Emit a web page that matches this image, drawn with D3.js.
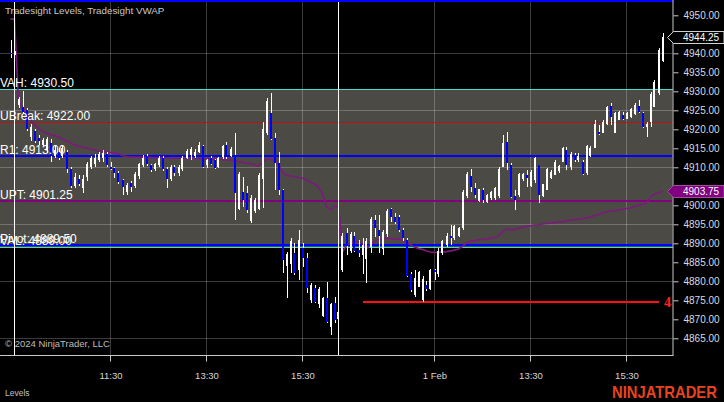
<!DOCTYPE html>
<html><head><meta charset="utf-8">
<script src="https://cdn.jsdelivr.net/npm/d3@7"></script>
<style>html,body{margin:0;padding:0;background:#000;}svg{display:block;font-family:"Liberation Sans",Arial,sans-serif;}</style>
</head><body><svg id="c" width="724" height="402"></svg>
<script>
// ---------- DATA ----------
// bars as [open, high, low, close]; sessions: 30 Jan (last 2 bars), 31 Jan (9:35-16:15), 1 Feb (9:35-16:15)
const day0Bars = [[4940.2,4943.5,4938.8,4939.8],[4939.8,4940.5,4939.5,4940.2]];
const day1Bars = [
[4926.5,4928.5,4925.5,4928],[4926,4930,4924,4924.5],[4925,4925.5,4919.5,4920],[4918,4921.5,4917,4920.5],
[4919.5,4920,4916.5,4917],[4917.8,4918.5,4916,4916.8],[4916,4917.8,4915.5,4917.2],[4914.5,4918,4913.8,4917.5],
[4916.5,4917.5,4911.5,4913],[4913,4915.5,4912.5,4914.5],[4914,4915,4912,4912.5],[4913,4916,4912.5,4915],
[4914,4914.5,4908.5,4909.5],[4909.5,4910,4904.5,4905],[4905,4908.5,4904.5,4907.5],[4907,4908,4905,4905.5],
[4904.5,4908,4903.2,4907],[4907.5,4911.5,4906.5,4911],[4910,4913,4909.5,4912.5],[4911,4913.5,4910,4912.5],
[4912,4914,4911.5,4913.5],[4912.5,4914.5,4911.5,4913.8],[4913.5,4914,4910,4910.5],[4910.2,4911.4,4909.3,4909.6],
[4909.8,4910.2,4907.2,4908.5],[4908.5,4909,4905.5,4906.2],[4906.7,4907,4902.7,4904.7],[4903.5,4906,4902.8,4905.3],
[4906,4906.5,4903.5,4904.8],[4905,4908.8,4904.5,4908.3],[4907.8,4911.2,4907,4910.8],[4910.5,4913.2,4910,4912.5],
[4913,4913.5,4910.3,4910.8],[4910.6,4911,4908.8,4909.4],[4909.5,4911.2,4909,4911],[4910.5,4912.9,4910,4912.5],
[4912.5,4913,4909,4909.5],[4909.6,4910,4904.6,4906.8],[4907,4910.5,4906.5,4910],[4910,4910.6,4907.8,4908.5],
[4908.5,4910.5,4907.8,4910],[4909.5,4912.9,4909,4912.5],[4912.5,4914.7,4912.3,4914.2],[4913.2,4915.3,4912,4914.8],
[4913,4914.8,4912.5,4914],[4914,4916.6,4913.8,4916],[4915.6,4916,4909.8,4910.2],[4910.5,4912.3,4909.8,4911.8],
[4912.5,4913,4910.5,4911],[4911.8,4912.3,4909.5,4909.8],[4910,4912.8,4909.8,4912.4],[4912.6,4916,4912.3,4915.5],
[4915.9,4916.6,4912.3,4912.8],[4913,4915.4,4912.8,4914.8],[4913.2,4919,4896.1,4903.2],[4899,4908.8,4898.8,4908.3],
[4903.5,4907.4,4899.5,4901.5],[4903.2,4905,4898,4898.8],[4896,4902.7,4895.3,4902],[4898.5,4902,4898,4901.5],
[4899,4908.5,4898.8,4908],[4907,4921.9,4899.3,4920],[4919,4928.2,4918.5,4927.5],[4924.3,4929.5,4917.2,4917.5],
[4917.7,4919,4904,4911.1],[4911.1,4914,4902.7,4904],[4904,4904.3,4882.2,4885.6],[4884,4887.7,4875.6,4887.3],
[4884.5,4891.4,4882.2,4890.5],[4887.4,4890,4881.7,4882.2],[4883,4893.5,4880.3,4891],[4888.8,4890,4883.8,4886.1],
[4886.1,4887.4,4877,4878.2],[4875,4879.6,4874.3,4879],[4878.2,4879,4874.3,4874.5],[4874,4878.5,4873,4878],
[4871,4875.9,4870.6,4875.5],[4875.6,4879.8,4869,4869.3],[4868,4874.3,4865.9,4874],[4874.3,4875.9,4869,4869.8],
[4870,4872.5,4869.5,4872]];
const day2Bars = [
[4883,4892.8,4882.4,4892],[4892.7,4894,4887,4889.2],[4888,4893,4887.4,4892.5],[4892,4893,4887.7,4888],
[4888.3,4890.8,4886.4,4887.5],[4887,4891.5,4882,4889.5],[4886,4891.4,4879.6,4890.5],[4889,4897,4887.5,4896.5],
[4896.2,4897.4,4891.7,4894],[4893.5,4897.5,4887.5,4892],[4888.5,4893.5,4887,4893],[4892.5,4899,4891.7,4898.5],
[4899,4899.2,4895.5,4897],[4897,4898,4895,4895.5],[4897,4897.5,4893,4893.5],[4893.5,4894,4890.5,4891.4],
[4891,4891.4,4881.2,4881.5],[4882,4882.5,4877.2,4877.7],[4876.5,4883,4875.9,4881],[4878.5,4882.6,4878.5,4882.5],
[4875,4881.3,4874.5,4880.5],[4879,4880,4877.5,4878],[4878,4883.2,4877.7,4883],[4883,4883.2,4880.3,4882.5],
[4882,4888.8,4881.2,4888],[4887.5,4890.8,4887,4890.5],[4889.5,4892.7,4889,4892],[4891.8,4894.8,4889.5,4891.4],
[4891.5,4894.8,4891,4894.5],[4892,4894.3,4891.7,4894],[4894,4904,4893.5,4903.5],[4902.5,4908.8,4901.9,4908.3],
[4907.7,4909.6,4903.5,4904.8],[4904.6,4905.9,4901.9,4902.7],[4901.2,4904.4,4900.9,4904.3],[4904,4904.5,4900.6,4901.4],
[4901,4902.9,4900.6,4902.6],[4902,4903.8,4901.3,4903.5],[4901.8,4904.8,4901.4,4904.5],[4902.5,4910,4902,4909.5],
[4910,4918.5,4910,4916.5],[4916.6,4919.2,4909.3,4911.1],[4910.6,4911.1,4902,4902.2],[4902.5,4904,4898.8,4901.4],
[4902.7,4908.6,4902.2,4908.2],[4906.8,4908.6,4906.5,4908.3],[4908,4909.3,4904.8,4907.2],[4905,4909.3,4904.8,4908.8],
[4906.7,4912.8,4906,4912.5],[4910.5,4910.6,4900.6,4902.8],[4902.5,4905.6,4902.2,4905.5],[4904,4909.8,4904,4909.5],
[4907.3,4909.3,4907,4908.8],[4908,4911.9,4907.9,4911.5],[4909,4910.5,4908.5,4910.3],[4911.5,4915.3,4911.4,4915],
[4914.5,4915.3,4909.3,4910.5],[4910,4914,4909.3,4913.5],[4913.2,4913.7,4911.5,4912],[4912,4913.8,4911.3,4913],
[4911.5,4911.8,4908,4908.2],[4908.5,4915.8,4908,4915.5],[4913,4915.5,4912.7,4915.2],[4915,4922.4,4915,4921.5],
[4919.3,4921.1,4918.5,4918.8],[4919,4922.4,4919,4922],[4921.3,4926.2,4921.1,4926],[4926.2,4926.8,4921.1,4923.2],
[4919,4924.6,4919,4924.2],[4922.5,4924.8,4922.4,4924.5],[4923.8,4924.5,4922.4,4922.8],[4922.8,4924.6,4922.6,4924.2],
[4923.3,4925.6,4923,4925.3],[4924,4926.8,4923.8,4926.5],[4926.2,4927.7,4924.3,4924.6],[4924.4,4924.6,4920.3,4920.6],
[4920.5,4922,4918,4921.5],[4922,4929.8,4920.5,4929.3],[4926,4933,4926,4932.5],[4929.5,4941.4,4929,4941],
[4938,4945.3,4937.7,4944.25]];

// Tradesight VWAP per bar
const day0Vwap = [4949,4949];
const day1Vwap = [4927.7,4925.6,4924.3,4922.4,4921.1,4920.3,4919.5,4919.0,4918.6,4918.4,4918.0,4917.4,4916.9,4916.4,4915.9,4915.6,
4915.3,4915.1,4914.8,4914.6,4914.3,4914.2,4914.0,4913.9,4913.8,4913.5,4913.1,4912.8,4912.7,4912.7,4912.7,4912.6,4912.6,4912.6,
4912.5,4912.5,4912.5,4912.5,4912.4,4912.4,4912.4,4912.4,4912.4,4912.4,4912.4,4912.3,4912.3,4912.3,4912.2,4912.2,4912.1,4912.0,
4912.0,4911.9,4911.8,4911.5,4911.3,4911.1,4911.0,4910.6,4910.3,4911.4,4912.1,4912.1,4911.8,4910.6,4908.8,4907.8,4907.7,4907.6,
4907.3,4907.1,4906.7,4906.1,4905.6,4904.8,4903.0,4899.6,4898.9,4899.7,4900.1];
const day2Vwap = [4887.8,4889.3,4890.1,4890.5,4890.4,4889.8,4888.6,4889.6,4890.5,4891.0,4891.3,4891.3,4891.3,4891.1,4891.1,4890.9,
4890.2,4889.6,4889.0,4888.6,4888.4,4888.0,4887.7,4887.6,4887.6,4887.7,4887.8,4888.0,4888.2,4888.5,4889.2,4890.1,4890.6,4890.7,
4890.9,4891.0,4891.1,4891.3,4891.5,4891.9,4893.0,4893.8,4893.6,4893.5,4894.0,4894.2,4894.4,4894.6,4894.8,4894.9,4895.1,4895.2,
4895.3,4895.5,4895.6,4895.7,4895.9,4896.1,4896.2,4896.3,4896.4,4896.7,4896.9,4897.3,4897.6,4898.0,4898.3,4898.5,4898.6,4898.8,
4898.9,4899.2,4899.3,4899.6,4900.0,4900.3,4900.5,4902.2,4903.0,4903.2,4903.75];

// Tradesight levels
const levelNames = ["VAH","UBreak","R1","UPT","Pivot","VAL"];
const levelValues = [4930.50,4922.00,4913.00,4901.25,4889.50,4889.00];

// red target line (label "4") from 1 Feb bar 5 to bar 79
const targetLabel = "4";
const targetValue = 4874.50;
const targetBars = [[2,5],[2,79]];

const priceTicks = [4865,4870,4875,4880,4885,4890,4895,4900,4905,4910,4915,4920,4925,4930,4935,4940,4945,4950];
const gridPrices = [4865,4880,4895,4910,4925,4940];
const timeTickLabels = ["11:30","13:30","15:30","1 Feb","13:30","15:30"];
const timeTickBars = [[1,23],[1,47],[1,71],[2,23],[2,47],[2,71]]; // [session, bar index from 9:35]

// ---------- BUILD ----------
const sessions = [day0Bars, day1Bars, day2Bars];
const vwaps = [day0Vwap, day1Vwap, day2Vwap];
const sessionStart = [];
let acc = 0;
sessions.forEach(s => { sessionStart.push(acc); acc += s.length; });
const bars = [];
sessions.forEach((s, si) => s.forEach((b, bi) => bars.push({slot: sessionStart[si] + bi, o: b[0], h: b[1], l: b[2], c: b[3], v: vwaps[si][bi]})));
const slotOf = ([s, b]) => sessionStart[s] + b;

const svg = d3.select("#c");
const W = 724, H = 402, plotR = 672.5, plotB = 355.5;
const x = d3.scaleLinear().domain([0, bars.length - 1]).range([10.5, 662.5]);
const y = d3.scaleLinear().domain([4865, 4950]).range([338.3, 15.3]);
const py1 = v => Math.round(y(v)) + 0.5;   // 1px crisp line position
const py2 = v => Math.round(y(v));         // 2px crisp line position

svg.append("rect").attr("width", W).attr("height", H).attr("fill", "#000");

// value area band
svg.append("rect").attr("x", 0).attr("width", plotR).attr("y", py1(levelValues[0])).attr("height", py1(levelValues[5]) - py1(levelValues[0])).attr("fill", "#4c4a44");

// grid
const grid = svg.append("g").attr("stroke", "rgba(255,255,255,0.23)").attr("stroke-width", 1).attr("shape-rendering", "crispEdges");
gridPrices.forEach(p => grid.append("line").attr("x1", 0).attr("x2", plotR).attr("y1", py1(p)).attr("y2", py1(p)));
timeTickBars.forEach(t => { const xx = Math.floor(x(slotOf(t))) + 0.5; grid.append("line").attr("x1", xx).attr("x2", xx).attr("y1", 0).attr("y2", plotB); });

// level lines
const levelColors = ["#3fe0d6", "#b81414", "#0000ff", "#800080", "#0000ff", "#3fe0d6"];
const levelWidths = [1, 1, 2, 2, 2, 1];
levelValues.forEach((v, i) => {
  const yy = levelWidths[i] === 1 ? py1(v) : py2(v);
  svg.append("line").attr("x1", 0).attr("x2", plotR).attr("y1", yy).attr("y2", yy)
    .attr("stroke", levelColors[i]).attr("stroke-width", levelWidths[i]).attr("shape-rendering", "crispEdges");
});

// target line
svg.append("line").attr("x1", x(slotOf(targetBars[0]))).attr("x2", x(slotOf(targetBars[1])))
  .attr("y1", py2(targetValue)).attr("y2", py2(targetValue)).attr("stroke", "#ff1010").attr("stroke-width", 2).attr("shape-rendering", "crispEdges");
svg.append("text").attr("x", 664).attr("y", y(targetValue) + 5).attr("fill", "#ff2020")
  .attr("font-size", 14).attr("font-weight", "bold").attr("font-family", "'Liberation Serif',serif").text(targetLabel);

// VWAP
svg.append("path").datum(bars).attr("fill", "none").attr("stroke", "#7c1a7c").attr("stroke-width", 1.6)
  .attr("d", d3.line().x(d => x(d.slot)).y(d => y(d.v)));

// candles
const cg = svg.append("g").attr("shape-rendering", "crispEdges");
bars.forEach(d => {
  const cx = Math.round(x(d.slot));
  cg.append("rect").attr("x", cx).attr("width", 1).attr("y", y(d.h)).attr("height", Math.max(1, y(d.l) - y(d.h))).attr("fill", "#fff");
  const top = y(Math.max(d.o, d.c)), bot = y(Math.min(d.o, d.c));
  cg.append("rect").attr("x", cx - 1).attr("width", 2).attr("y", top).attr("height", Math.max(1, bot - top))
    .attr("fill", d.c >= d.o ? "#ffffff" : "#0000ff");
});

// session break lines (at the last bar of each finished session)
[sessionStart[1] - 1, sessionStart[2] - 1].forEach(s => {
  const xx = Math.floor(x(s)) + 0.5;
  svg.append("line").attr("x1", xx).attr("x2", xx).attr("y1", 0).attr("y2", plotB).attr("stroke", "#fff").attr("stroke-width", 1).attr("shape-rendering", "crispEdges");
});

// level labels
levelValues.forEach((v, i) => svg.append("text").attr("x", 0).attr("y", Math.round(y(v)) - 2).attr("fill", "#fff").attr("font-size", 12)
  .text(levelNames[i] + ": " + v.toFixed(2)));

// frame
svg.append("rect").attr("x", 0).attr("y", 0).attr("width", plotR + 0.5).attr("height", 2).attr("fill", "#0000ff");
svg.append("line").attr("x1", plotR + 0.5).attr("x2", plotR + 0.5).attr("y1", 0).attr("y2", plotB).attr("stroke", "#c8c8c8");
svg.append("line").attr("x1", 0).attr("x2", plotR + 1).attr("y1", plotB).attr("y2", plotB).attr("stroke", "#c8c8c8");

// price markers' values
const lastClose = day2Bars[day2Bars.length - 1][3];
const lastVwap = day2Vwap[day2Vwap.length - 1];

// y axis
const ya = svg.append("g").attr("transform", `translate(${plotR + 1},0)`)
  .call(d3.axisRight(y).tickValues(priceTicks).tickSize(5).tickPadding(5).tickFormat(d => d.toFixed(2)));
ya.select(".domain").remove();
ya.selectAll("line").attr("stroke", "#c8c8c8");
ya.selectAll("text").attr("fill", "#d6dbe6").attr("font-size", 10).attr("font-family", "'Liberation Sans',Arial,sans-serif");
// labels covered by the price markers are hidden, as in the platform
ya.selectAll(".tick").filter(d => Math.abs(y(d) - y(lastClose)) < 6 || Math.abs(y(d) - y(lastVwap)) < 6).select("text").remove();

// x axis
const xa = svg.append("g").attr("transform", `translate(0,${plotB})`)
  .call(d3.axisBottom(x).tickValues(timeTickBars.map(slotOf)).tickSize(6).tickPadding(11).tickFormat((d, i) => timeTickLabels[i]));
xa.select(".domain").remove();
xa.selectAll("line").attr("stroke", "#c8c8c8").attr("transform", "translate(-0.5,0)");
xa.selectAll("text").attr("fill", "#d6d6d6").attr("font-size", 9.5).attr("font-family", "'Liberation Sans',Arial,sans-serif");

// price markers
function marker(v, fill, stroke) {
  const yy = Math.round(y(v)) + 0.5;
  svg.append("path").attr("d", `M667.5,${yy} L673.5,${yy - 6} L724,${yy - 6} L724,${yy + 6} L673.5,${yy + 6} Z`)
    .attr("fill", fill).attr("stroke", stroke).attr("stroke-width", 1);
  svg.append("text").attr("x", 683).attr("y", yy).attr("dy", "0.35em").attr("fill", "#fff").attr("font-size", 10).text(v.toFixed(2));
}
marker(lastClose, "#000", "#d0d0d0");
marker(lastVwap, "#800080", "#a04aa0");

// texts
svg.append("text").attr("x", 5).attr("y", 14).attr("fill", "#c8c8c8").attr("font-size", 9.8).text("Tradesight Levels, Tradesight VWAP");
svg.append("text").attr("x", 5).attr("y", 347).attr("fill", "#bdbdbd").attr("font-size", 9.5).text("© 2024 NinjaTrader, LLC");
svg.append("text").attr("x", 5).attr("y", 396).attr("fill", "#c0c0c0").attr("font-size", 8.5).text("Levels");
svg.append("text").attr("transform", "translate(612,398) scale(1,1.15)").attr("fill", "#e8431e").attr("font-size", 14.8).attr("font-weight", "bold")
  .text("NINJATRADER");
</script></body></html>
